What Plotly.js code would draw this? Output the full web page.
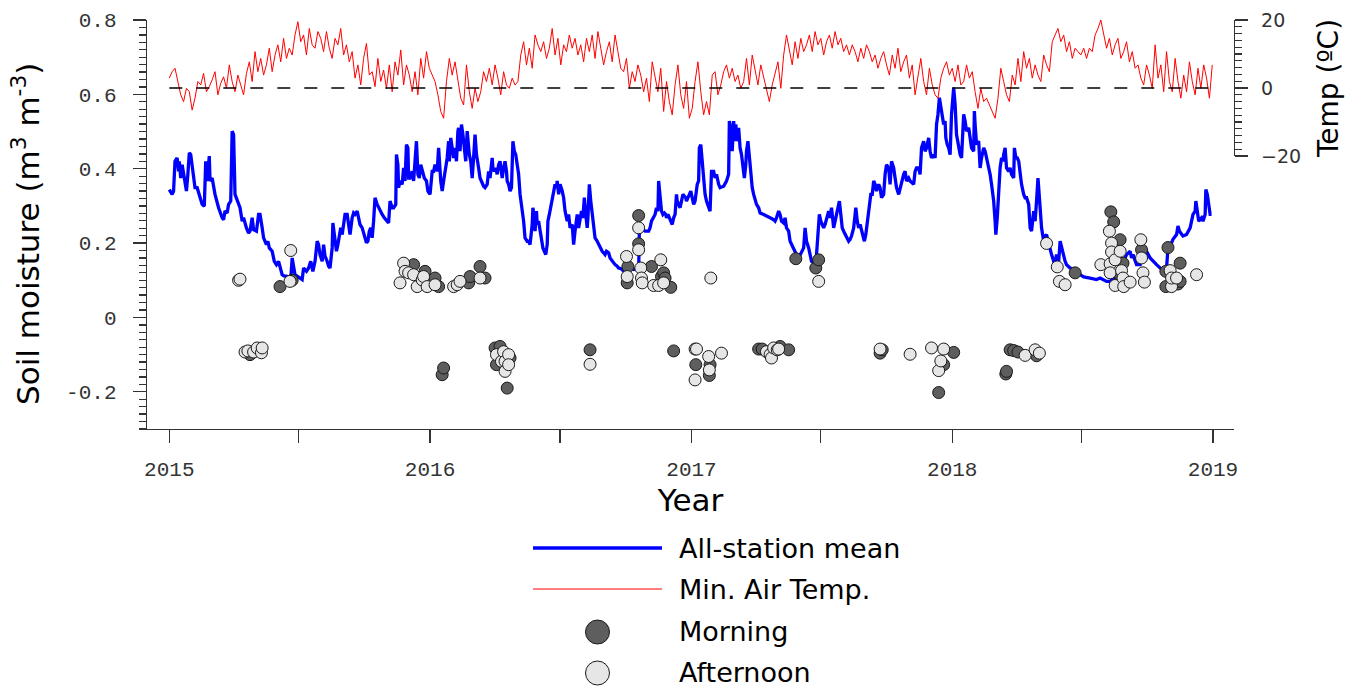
<!DOCTYPE html>
<html><head><meta charset="utf-8">
<script src="https://cdn.plot.ly/plotly-3.0.1.min.js"></script>
<style>html,body{margin:0;padding:0;background:#fff}#chart{width:1360px;height:691px}</style>
</head><body><div id="chart"></div>
<script>
// ---- DATA (days counted from 2015-01-01) ----
const RECORD_START = Date.UTC(2015, 0, 1);

const sm_2015 = [[0,.344],[4,.331],[6,.340],[8,.420],[11,.429],[13,.393],[14,.420],[16,.375],[18,.411],[21,.367],[24,.340],[26,.385],[28,.443],[30,.438],[32,.402],[34,.385],[36,.349],[39,.349],[42,.331],[46,.304],[49,.299],[51,.420],[53,.367],[56,.434],[57,.367],[60,.375],[64,.331],[69,.295],[74,.268],[76,.263],[78,.286],[81,.281],[83,.304],[86,.313],[88,.501],[90,.492],[92,.331],[96,.313],[99,.295],[102,.259],[104,.268],[108,.241],[111,.227],[113,.232],[116,.268],[118,.236],[122,.232],[125,.277],[127,.277],[130,.241],[132,.214],[136,.196],[138,.205],[140,.187],[144,.178],[147,.151],[150,.142],[153,.151],[155,.133],[158,.115],[161,.111],[164,.111],[167,.102],[170,.102],[172,.160],[174,.129],[176,.115],[179,.111],[182,.106],[186,.102],[188,.133],[192,.124],[195,.133],[198,.151],[201,.124],[204,.151],[207,.205],[209,.196],[211,.169],[214,.151],[216,.196],[218,.165],[221,.151],[223,.138],[225,.133],[228,.187],[229,.254],[231,.223],[234,.178],[236,.196],[238,.214],[240,.241],[242,.223],[244,.250],[246,.277],[249,.277],[251,.241],[253,.223],[256,.268],[258,.281],[260,.277],[263,.286],[265,.268],[267,.250],[270,.241],[273,.223],[276,.201],[278,.205],[280,.232],[282,.241],[284,.214],[286,.259],[288,.322],[291,.304],[293,.295],[295,.290],[298,.277],[301,.268],[305,.259],[307,.254],[309,.313],[312,.295],[314,.295],[317,.304],[318,.438],[320,.411],[321,.349],[323,.367],[326,.358],[328,.402],[330,.367],[332,.465],[334,.456],[335,.375],[337,.375],[340,.393],[342,.367],[344,.420],[346,.474],[348,.385],[350,.375],[352,.411],[355,.393],[357,.375],[360,.367],[362,.340],[365,.331]];

const sm_2016 = [[368,.393],[370,.393],[372,.411],[375,.393],[377,.456],[380,.367],[382,.340],[384,.367],[386,.393],[389,.429],[391,.474],[392,.420],[394,.483],[396,.456],[398,.429],[400,.456],[402,.420],[404,.501],[405,.510],[407,.447],[409,.519],[411,.492],[413,.447],[415,.420],[417,.501],[418,.474],[420,.438],[422,.420],[424,.375],[426,.429],[428,.492],[430,.438],[431,.420],[433,.402],[435,.375],[438,.358],[440,.353],[442,.349],[445,.358],[447,.393],[449,.375],[452,.429],[453,.402],[455,.393],[457,.402],[459,.385],[461,.411],[463,.420],[466,.375],[468,.402],[470,.420],[472,.393],[473,.367],[475,.358],[477,.340],[479,.349],[481,.474],[483,.447],[485,.438],[487,.411],[489,.385],[491,.331],[494,.295],[496,.259],[498,.214],[501,.205],[503,.205],[505,.196],[508,.250],[509,.295],[511,.268],[512,.232],[514,.286],[515,.250],[517,.259],[519,.232],[521,.205],[523,.187],[525,.178],[527,.169],[529,.196],[530,.259],[532,.277],[534,.295],[536,.313],[538,.340],[540,.358],[542,.349],[543,.367],[545,.331],[547,.358],[550,.340],[552,.322],[554,.286],[557,.259],[559,.277],[561,.241],[564,.250],[566,.196],[568,.232],[570,.259],[571,.277],[573,.241],[575,.259],[577,.286],[579,.268],[581,.322],[583,.277],[585,.241],[586,.268],[588,.358],[590,.313],[592,.277],[594,.232],[596,.214],[599,.205],[601,.196],[603,.187],[606,.178],[608,.174],[610,.169],[612,.178],[615,.174],[617,.160],[620,.151],[622,.147],[624,.142],[627,.138],[629,.133],[631,.132],[634,.129],[636,.124],[638,.120],[641,.129],[645,.132],[650,.129],[655,.132],[657,.124],[658,.232],[660,.241],[663,.236],[666,.232],[671,.232],[673,.241],[675,.259],[678,.268],[680,.277],[682,.295],[684,.286],[685,.367],[687,.313],[689,.286],[691,.277],[693,.281],[695,.277],[696,.268],[698,.277],[700,.268],[702,.259],[704,.250],[706,.268],[708,.277],[710,.331],[711,.313],[713,.304],[715,.295],[717,.313],[719,.331],[721,.326],[723,.322],[724,.313],[726,.322],[728,.331],[730,.340]];

const sm_2017 = [[732,.322],[734,.304],[736,.313],[737,.331],[739,.358],[741,.367],[742,.456],[744,.465],[746,.411],[748,.367],[750,.331],[752,.313],[755,.295],[757,.286],[759,.393],[762,.393],[764,.375],[766,.385],[769,.358],[771,.349],[776,.353],[780,.367],[783,.385],[784,.528],[786,.510],[788,.447],[790,.528],[792,.474],[793,.519],[795,.474],[797,.510],[799,.456],[801,.438],[803,.402],[805,.375],[807,.411],[808,.447],[810,.474],[812,.429],[814,.375],[816,.349],[818,.331],[820,.313],[822,.304],[825,.295],[827,.281],[832,.277],[836,.272],[841,.268],[846,.263],[848,.259],[850,.268],[853,.286],[855,.277],[857,.259],[860,.254],[862,.268],[864,.241],[867,.232],[869,.205],[871,.196],[874,.187],[876,.174],[878,.169],[881,.160],[883,.169],[885,.178],[888,.187],[890,.241],[892,.205],[895,.187],[897,.169],[899,.151],[902,.147],[904,.142],[906,.169],[909,.241],[910,.277],[912,.259],[914,.250],[916,.241],[918,.250],[920,.268],[923,.286],[925,.268],[927,.295],[930,.241],[932,.259],[934,.286],[937,.304],[938,.313],[940,.277],[942,.241],[944,.232],[946,.223],[948,.214],[951,.205],[953,.210],[955,.219],[958,.241],[960,.286],[961,.295],[963,.259],[965,.241],[967,.250],[969,.232],[971,.214],[973,.205],[975,.223],[976,.241],[978,.277],[980,.295],[982,.331],[984,.331],[986,.367],[988,.358],[990,.340],[993,.358],[995,.349],[997,.322],[1000,.331],[1002,.385],[1004,.411],[1007,.402],[1009,.358],[1011,.420],[1014,.402],[1016,.375],[1018,.349],[1021,.331],[1023,.349],[1025,.358],[1028,.385],[1030,.393],[1032,.367],[1035,.375],[1037,.367],[1042,.358],[1044,.393],[1046,.402],[1049,.402],[1051,.385],[1053,.456],[1056,.474],[1058,.447],[1060,.456],[1063,.483],[1065,.447],[1067,.429],[1070,.438],[1072,.429],[1074,.519],[1076,.546],[1078,.591],[1080,.564],[1082,.537],[1084,.519],[1086,.528],[1087,.483],[1089,.465],[1091,.456],[1093,.438],[1095,.546]];

const sm_2018 = [[1098,.618],[1100,.573],[1102,.492],[1105,.456],[1107,.438],[1109,.429],[1112,.546],[1114,.528],[1116,.501],[1119,.510],[1121,.474],[1123,.456],[1126,.447],[1127,.555],[1128,.519],[1130,.465],[1133,.474],[1135,.402],[1137,.429],[1140,.456],[1142,.447],[1144,.429],[1147,.411],[1149,.385],[1151,.358],[1154,.313],[1156,.259],[1157,.223],[1159,.268],[1161,.358],[1163,.402],[1165,.429],[1167,.420],[1168,.438],[1170,.456],[1172,.402],[1175,.393],[1177,.402],[1179,.385],[1182,.375],[1183,.456],[1185,.429],[1187,.429],[1189,.420],[1191,.385],[1193,.358],[1196,.331],[1198,.322],[1200,.322],[1203,.304],[1205,.241],[1207,.232],[1210,.286],[1212,.259],[1214,.313],[1216,.375],[1217,.349],[1219,.277],[1221,.241],[1224,.205],[1226,.219],[1228,.223],[1231,.196],[1233,.178],[1235,.169],[1238,.151],[1240,.151],[1242,.169],[1245,.151],[1247,.205],[1249,.187],[1252,.160],[1254,.151],[1256,.142],[1261,.133],[1266,.129],[1270,.120],[1275,.115],[1280,.109],[1289,.106],[1298,.102],[1303,.106],[1307,.102],[1312,.097],[1317,.097],[1322,.106],[1326,.124],[1331,.133],[1336,.151],[1340,.169],[1345,.178],[1347,.160],[1349,.169],[1354,.142],[1359,.142],[1361,.169],[1363,.174],[1368,.178],[1373,.160],[1377,.151],[1382,.142],[1387,.133],[1394,.124],[1396,.133],[1398,.187],[1402,.196],[1405,.210],[1410,.223],[1412,.246],[1414,.232],[1419,.219],[1424,.223],[1429,.241],[1433,.277],[1436,.286],[1437,.313],[1439,.277],[1441,.259],[1445,.268],[1447,.259],[1450,.277],[1451,.344],[1453,.331],[1455,.295],[1457,.277],[1459,.277]];

// minimum air temperature, one reading every 4 days from 2015-01-01
const TEMP_STEP_DAYS = 4;
const tmin_2015 = [2.9,4.8,5.8,1.9,-2.0,-4.0,-0.1,-1.1, -6.5,-3.0,1.9,0.9,4.3,-1.1,0.4, 2.4,4.8,-2.0,1.4,3.3,-0.1,6.8,1.9, -1.1,3.8,0.9,-2.0,4.3,7.7,1.9, 10.7,4.8,8.7,3.8,6.8,11.7,4.8,9.7, 12.7,7.7,14.6,8.7,11.7,9.7,15.6,19.5, 13.6,15.6,9.7,17.5,12.7,11.7,16.6, 14.6,10.7,16.6,11.7,8.7,14.6,12.7,17.5, 9.7,12.7,7.7,10.7,2.9,6.8,0.9,8.7, 13.1,3.8,4.8,0.4,8.7,1.9,5.3,-0.1, 6.8,-1.1,7.7,3.8,11.2,0.9,6.8, 3.8,-1.1,4.8,-2.0,8.7,2.9,10.7,5.8];
const tmin_2016 = [3.8,1.9,-2.0,-6.9,-8.9,1.9,8.7,3.8,7.7,1.9, -3.0,-5.0,6.8,-1.1,-6.0,0,-4,-1.1,4.8,1.9, 5.8,0.9,6.8,2.9,-2.0,4.8,0.9,-0.1,2.9,0.9, 1.9,9.7,13.6,6.8,11.7,5.8,15.6,12.7,10.7,13.6, 8.7,11.7,17.5,9.7,14.6,6.8,12.7,10.7,15.6,11.7, 14.6,9.7,12.7,7.7,14.6,10.7,15.6,8.7,16.6,11.7, 6.8,10.7,13.6,7.7,15.6,10.7,5.8,4.8,8.7,-0.1, 4.8,1.9,6.8,3.8,-1.1,2.9,-4.0,7.7,2.9,-1.1, 5.8,-6.9,1.9,-4.0,-7.9,0.9,6.8,-2.0,-6.0,1.9,-8.9];
const tmin_2017 = [-6.0,1.9,7.7,-1.1,-7.9,-4.0,-7.9,3.8,4.8,-2.0, 0.9,4.8,6.8,2.9,5.8,1.9,3.8,-0.1,1.9,8.7, 0.9,9.7,4.8,0.9,6.8,2.9,-1.1,-4.0,0.9,4.8, 7.7,-0.1,9.7,15.6,11.7,6.8,13.6,8.7,14.6,10.7, 12.7,15.6,10.7,16.6,12.7,14.6,9.7,13.6,15.6,11.7, 16.6,12.7,14.6,10.7,12.7,9.7,12.7,10.7,7.7,11.7, 8.7,12.7,10.7,7.7,9.7,5.8,8.7,10.7,6.8,3.8, 9.7,5.8,11.7,4.8,7.7,9.7,2.9,6.8,-2.0,3.8, 8.7,1.9,-2.0,5.8,0.9,-2.0,-3.0,2.9,5.8,7.7,3.8];
const tmin_2018 = [5.8,1.9,6.8,0.9,1.9,6.8,2.9,4.8,-1.1,-6.0, -0.1,-4.0,-3.0,-5.0,-6.9,-8.9,-3.0,5.8,1.9,-2.0, -4.0,3.8,0.9,8.7,1.9,10.7,5.8,8.7,2.9,6.8, 3.8,1.9,9.7,6.8,4.8,13.6,15.6,17.5,13.6,15.6, 10.7,13.6,8.7,11.7,10.7,9.7,11.7,8.7,11.7,10.7, 15.6,17.5,20.0,15.6,11.7,14.6,9.7,12.7,14.6,8.7, 10.7,13.6,7.7,10.7,5.8,6.8,2.9,0.9,6.8,3.8, -0.1,12.7,2.9,6.8,-1.1,10.7,1.9,-1.1,8.7,1.9, -3.0,3.8,-1.1,7.7,1.9,-2.0,5.8,-0.1,6.8,2.9, -3.0,6.8];

// individual station readings [day, soil moisture]
const morning_obs = [[113,-.100],[155,.083],[172,.100],
 [342,.142],[358,.124],[372,.106],[377,.083],[382,-.154],[384,-.136],[419,.093],[421,.110],[435,.137],[442,.106],[456,-.082],[458,-.127],[463,-.078],[473,-.190],[477,-.109],[589,-.087],
 [641,.093],[642,.137],[657,.274],[657,.198],[675,.137],[689,.110],[692,.120],[694,.106],[702,.081],[706,-.090],[737,-.127],[756,-.156],[757,-.127],
 [825,-.085],[830,-.085],[855,-.078],[867,-.087],[877,.158],[905,.133],[909,.155],[995,-.096],[998,-.087],[1077,-.202],[1084,-.127],[1098,-.094],
 [1171,-.152],[1172,-.145],[1177,-.087],[1182,-.089],[1188,-.093],[1214,-.103],[1268,.120],[1318,.284],[1322,.257],[1331,.209],[1331,.115],[1335,.146],[1361,.182],[1395,.124],[1395,.083],[1398,.188],[1412,.090],[1415,.146],[1415,.097]];
const afternoon_obs = [[97,.100],[99,.103],[106,-.093],[110,-.090],[118,-.093],[123,-.082],[129,-.095],[130,-.082],[169,.097],[170,.180],
 [323,.093],[328,.146],[330,.124],[335,.120],[342,.115],[347,.083],[354,.101],[356,.110],[361,.083],[372,.088],[398,.083],[403,.088],[407,.097],[435,.106],
 [458,-.100],[465,-.118],[468,-.092],[470,-.118],[470,-.145],[475,-.100],[475,-.127],[589,-.126],
 [640,.164],[641,.110],[657,.241],[657,.182],[660,.133],[661,.106],[662,.093],[678,.086],[685,.086],[688,.155],[692,.093],[736,-.085],[736,-.168],[738,-.085],[755,-.105],[756,-.141],[758,.106],[773,-.096],
 [836,-.092],[841,-.100],[843,-.109],[846,-.082],[851,-.087],[853,-.085],[909,.097],[995,-.085],[1037,-.099],[1067,-.082],[1077,-.143],[1080,-.117],[1084,-.085],
 [1198,-.102],[1212,-.087],[1218,-.096],[1228,.199],[1243,.136],[1246,.097],[1254,.088],[1304,.142],[1316,.232],[1317,.144],[1317,.120],[1319,.200],[1319,.176],[1324,.155],[1324,.086],[1331,.178],[1333,.126],[1335,.106],[1336,.083],[1345,.095],[1360,.209],[1361,.160],[1363,.120],[1365,.095],[1401,.126],[1403,.083],[1403,.106],[1410,.106],[1438,.115]];

const year_tick_dates = ['2015-01-01','2016-01-01','2017-01-01','2018-01-01','2019-01-01'];
const year_tick_text  = ['2015','2016','2017','2018','2019'];
const sm_tick_vals = [-0.2,0,0.2,0.4,0.6,0.8];
const sm_tick_text = ['-0.2','0','0.2','0.4','0.6','0.8'];
const temp_tick_vals = [-20,0,20];
const legend_labels = ['All-station mean','Min. Air Temp.','Morning','Afternoon'];
const y_title = 'Soil moisture (m<sup>3</sup> m<sup>-3</sup>)';

// ---- helpers ----
function dayToDate(d){ return new Date(RECORD_START + d*86400000).toISOString().slice(0,19).replace('T',' '); }
const smAll = sm_2015.concat(sm_2016, sm_2017, sm_2018);
const tAll = tmin_2015.concat(tmin_2016, tmin_2017, tmin_2018);

const COL_MORN = '#5e5e5e', COL_AFT = '#e6e6e6', AXC = '#333';

const traces = [
 {type:'scatter', mode:'lines', xaxis:'x', yaxis:'y2', name:legend_labels[1],
  x: tAll.map((v,i)=>dayToDate(i*TEMP_STEP_DAYS)), y: tAll,
  line:{color:'#ff0000', width:1}, hoverinfo:'skip'},
 {type:'scatter', mode:'lines', name:legend_labels[0],
  x: smAll.map(p=>dayToDate(p[0])), y: smAll.map(p=>p[1]),
  line:{color:'#0000ff', width:3.3}},
 {type:'scatter', mode:'markers', name:legend_labels[2],
  x: morning_obs.map(p=>dayToDate(p[0])), y: morning_obs.map(p=>p[1]),
  marker:{size:12, color:COL_MORN, line:{color:'#1a1a1a', width:1}}},
 {type:'scatter', mode:'markers', name:legend_labels[3],
  x: afternoon_obs.map(p=>dayToDate(p[0])), y: afternoon_obs.map(p=>p[1]),
  marker:{size:12, color:COL_AFT, line:{color:'#1a1a1a', width:1}}}
];

// plot area in pixels
const PL = 147, PR = 1234, PT = 20, PB = 429;
const W = PR-PL, H = PB-PT;
const px = x => (x-PL)/W, py = y => (PB-y)/H;

const shapes = [
 {type:'line', xref:'x', yref:'y2', x0:dayToDate(0), x1:dayToDate(1460), y0:0, y1:0,
  line:{color:'#000', width:1.3, dash:'13px,14px'}},
 {type:'line', xref:'paper', yref:'paper', x0:px(140), x1:0, y0:0, y1:0, line:{color:AXC, width:1.3}},
 // legend glyphs
 {type:'line', xref:'paper', yref:'paper', x0:px(533), x1:px(662), y0:py(548), y1:py(548), line:{color:'#0000ff', width:3.3}},
 {type:'line', xref:'paper', yref:'paper', x0:px(533), x1:px(662), y0:py(589), y1:py(589), line:{color:'#ff0000', width:1}},
 {type:'circle', xref:'paper', yref:'paper', xsizemode:'pixel', ysizemode:'pixel', xanchor:px(597.5), yanchor:py(632), x0:-12, x1:12, y0:-12, y1:12, fillcolor:COL_MORN, line:{color:'#1a1a1a', width:1}},
 {type:'circle', xref:'paper', yref:'paper', xsizemode:'pixel', ysizemode:'pixel', xanchor:px(597.5), yanchor:py(673), x0:-12, x1:12, y0:-12, y1:12, fillcolor:COL_AFT, line:{color:'#1a1a1a', width:1}}
];
const legY = [548, 589, 631, 672];
const annotations = legend_labels.map((t,i)=>({xref:'paper', yref:'paper', x:px(677), y:py(legY[i]), xanchor:'left', yanchor:'middle', showarrow:false, text:t, font:{family:'DejaVu Sans', size:27, color:'#000'}}));
annotations.push({xref:'paper', yref:'paper', x:px(26), y:py(234), xanchor:'center', yanchor:'middle', textangle:-90, showarrow:false, text:y_title, font:{family:'DejaVu Sans', size:31, color:'#000'}});

const axBase = {showgrid:false, zeroline:false, showline:true, linecolor:AXC, linewidth:1.3, ticks:'outside', ticklen:13, tickwidth:1.3, tickcolor:AXC};

const layout = {
 width:1360, height:691,
 margin:{l:PL, r:1360-PR, t:PT, b:691-PB, pad:0},
 paper_bgcolor:'#fff', plot_bgcolor:'rgba(0,0,0,0)', showlegend:false,
 font:{family:'DejaVu Sans', color:'#000'},
 xaxis:Object.assign({}, axBase, {type:'date', range:[dayToDate(-31.2), dayToDate(1490.4)],
   tickmode:'array', tickvals:year_tick_dates, ticktext:year_tick_text,
   minor:{dtick:'M6', tick0:'2015-01-01', ticks:'outside', ticklen:13, tickwidth:1.3, tickcolor:AXC, showgrid:false},
   tickfont:{family:'Liberation Mono', size:21, color:AXC}, ticklabelstandoff:7,
   title:{text:'Year', font:{family:'DejaVu Sans', size:31, color:'#000'}, standoff:8}}),
 yaxis:Object.assign({}, axBase, {range:[-0.3,0.8], domain:[0,1],
   tickmode:'array', tickvals:sm_tick_vals, ticktext:sm_tick_text,
   tickfont:{family:'Liberation Mono', size:21, color:AXC}, ticklabelstandoff:12,
   minor:{dtick:0.02, tick0:0, ticks:'outside', ticklen:7, tickwidth:1.3, tickcolor:AXC, showgrid:false}}),
 yaxis2:Object.assign({}, axBase, {range:[-20,20], domain:[0.6675,1], anchor:'x', side:'right',
   tickmode:'array', tickvals:temp_tick_vals,
   tickfont:{family:'DejaVu Sans', size:19, color:AXC}, ticklabelstandoff:9,
   minor:{dtick:2, tick0:0, ticks:'outside', ticklen:7, tickwidth:1.3, tickcolor:AXC, showgrid:false},
   title:{text:'Temp (ºC)', font:{family:'DejaVu Sans', size:28, color:'#000'}, standoff:18}}),
 shapes, annotations
};

Plotly.newPlot('chart', traces, layout, {displayModeBar:false, staticPlot:true});
</script></body></html>
